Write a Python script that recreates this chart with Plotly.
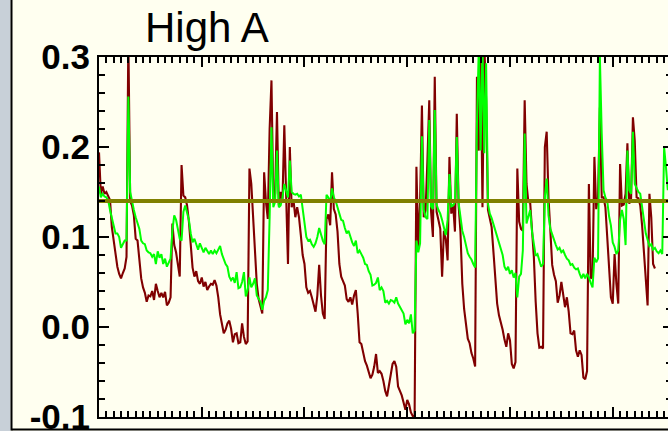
import numpy as np
import plotly.graph_objects as go

# Sampling interval of both series (in axis units, 4 samples per unit)
STEP = 0.25

# Dark-red series
red_vals = [
    0.194, 0.148, 0.156, 0.148, 0.150, 0.146, 0.141, 0.111, 0.094, 0.080,
    0.067, 0.059, 0.054, 0.060, 0.065, 0.078, 0.320, 0.140, 0.135, 0.124,
    0.098, 0.096, 0.074, 0.054, 0.044, 0.038, 0.028, 0.035, 0.034, 0.040,
    0.030, 0.048, 0.040, 0.033, 0.038, 0.033, 0.039, 0.024, 0.027, 0.033,
    0.115, 0.091, 0.083, 0.070, 0.056, 0.180, 0.146, 0.144, 0.135, 0.117,
    0.085, 0.066, 0.056, 0.062, 0.051, 0.048, 0.055, 0.045, 0.050, 0.041,
    0.045, 0.048, 0.047, 0.052, 0.046, 0.033, 0.014, 0.002, -0.007, -0.003,
    0.004, 0.007, -0.002, -0.017, -0.008, -0.007, -0.018, -0.017, 0.004, -0.011,
    -0.019, -0.016, 0.176, 0.159, 0.119, 0.078, 0.048, 0.031, 0.024, 0.015,
    0.172, 0.139, 0.120, 0.220, 0.274, 0.141, 0.148, 0.239, 0.135, 0.150,
    0.141, 0.224, 0.146, 0.070, 0.200, 0.133, 0.141, 0.122, 0.133, 0.122,
    0.102, 0.080, 0.070, 0.044, 0.038, 0.040, 0.033, 0.026, 0.017, 0.035,
    0.069, 0.035, 0.015, 0.009, 0.120, 0.125, 0.113, 0.172, 0.131, 0.125,
    0.106, 0.070, 0.056, 0.051, 0.046, 0.031, 0.028, 0.033, 0.025, 0.035,
    0.041, 0.015, -0.017, -0.019, -0.028, -0.038, -0.043, -0.051, -0.057, -0.053,
    -0.044, -0.030, -0.051, -0.049, -0.052, -0.060, -0.071, -0.077, -0.067, -0.053,
    -0.041, -0.038, -0.044, -0.066, -0.071, -0.076, -0.084, -0.092, -0.081, -0.086,
    -0.095, -0.099, -0.103, 0.178, 0.089, 0.139, 0.246, 0.122, 0.130, 0.185,
    0.252, 0.128, 0.100, 0.278, 0.128, 0.119, 0.109, 0.056, 0.107, 0.098,
    0.074, 0.189, 0.126, 0.136, 0.106, 0.237, 0.135, 0.106, 0.048, 0.020,
    0.000, -0.013, -0.018, -0.029, -0.035, -0.044, 0.278, 0.196, 0.315, 0.133,
    0.315, 0.252, 0.130, 0.122, 0.111, 0.083, 0.052, 0.026, 0.013, 0.006,
    -0.003, -0.014, -0.022, -0.007, -0.015, -0.041, -0.046, -0.039, 0.176, 0.117,
    0.109, 0.107, 0.252, 0.159, 0.139, 0.138, 0.113, 0.078, 0.028, -0.007,
    -0.023, -0.022, -0.024, 0.200, 0.217, 0.143, 0.107, 0.069, 0.058, 0.051,
    0.027, 0.035, 0.050, 0.035, 0.022, 0.033, 0.017, -0.007, -0.008, -0.004,
    -0.026, -0.033, -0.026, -0.031, -0.056, -0.058, -0.049, 0.159, 0.054, 0.056,
    0.189, 0.131, 0.144, 0.244, 0.144, 0.144, 0.133, 0.100, 0.070, 0.033,
    0.026, 0.081, 0.048, 0.026, 0.181, 0.135, 0.136, 0.148, 0.204, 0.137,
    0.143, 0.233, 0.207, 0.144, 0.143, 0.135, 0.113, 0.081, 0.056, 0.024,
    0.148, 0.122, 0.070, 0.065,
]

# Bright-green series
green_vals = [
    0.156, 0.144, 0.148, 0.145, 0.144, 0.141, 0.130, 0.120, 0.112, 0.104,
    0.104, 0.100, 0.088, 0.093, 0.096, 0.096, 0.256, 0.150, 0.139, 0.130,
    0.122, 0.115, 0.109, 0.096, 0.093, 0.092, 0.085, 0.083, 0.082, 0.078,
    0.081, 0.070, 0.084, 0.077, 0.081, 0.070, 0.076, 0.067, 0.071, 0.076,
    0.107, 0.124, 0.119, 0.109, 0.098, 0.096, 0.128, 0.135, 0.127, 0.119,
    0.104, 0.094, 0.098, 0.092, 0.086, 0.093, 0.087, 0.083, 0.088, 0.085,
    0.081, 0.085, 0.081, 0.085, 0.082, 0.086, 0.090, 0.081, 0.075, 0.070,
    0.067, 0.056, 0.052, 0.055, 0.049, 0.061, 0.043, 0.044, 0.050, 0.061,
    0.034, 0.041, 0.055, 0.044, 0.048, 0.054, 0.035, 0.031, 0.028, 0.019,
    0.029, 0.033, 0.041, 0.122, 0.222, 0.133, 0.139, 0.196, 0.133, 0.135,
    0.144, 0.159, 0.152, 0.144, 0.185, 0.150, 0.148, 0.147, 0.148, 0.145,
    0.147, 0.130, 0.119, 0.100, 0.096, 0.097, 0.092, 0.089, 0.093, 0.100,
    0.110, 0.102, 0.096, 0.092, 0.147, 0.144, 0.138, 0.154, 0.144, 0.140,
    0.134, 0.126, 0.119, 0.118, 0.110, 0.104, 0.107, 0.099, 0.094, 0.090,
    0.096, 0.082, 0.085, 0.081, 0.077, 0.070, 0.069, 0.062, 0.058, 0.046,
    0.047, 0.049, 0.055, 0.041, 0.044, 0.040, 0.027, 0.029, 0.026, 0.030,
    0.029, 0.027, 0.033, 0.026, 0.022, 0.018, 0.015, 0.003, 0.008, 0.004,
    0.014, -0.007, -0.004, 0.096, 0.083, 0.093, 0.212, 0.130, 0.122, 0.120,
    0.230, 0.134, 0.131, 0.241, 0.136, 0.130, 0.126, 0.119, 0.109, 0.102,
    0.119, 0.170, 0.134, 0.135, 0.139, 0.211, 0.138, 0.122, 0.107, 0.100,
    0.089, 0.082, 0.078, 0.075, 0.070, 0.066, 0.226, 0.310, 0.196, 0.315,
    0.193, 0.293, 0.137, 0.126, 0.121, 0.114, 0.107, 0.100, 0.092, 0.084,
    0.080, 0.067, 0.063, 0.067, 0.059, 0.063, 0.055, 0.060, 0.033, 0.056,
    0.059, 0.085, 0.215, 0.115, 0.122, 0.130, 0.106, 0.093, 0.079, 0.081,
    0.073, 0.067, 0.070, 0.144, 0.165, 0.124, 0.109, 0.102, 0.096, 0.091,
    0.086, 0.088, 0.083, 0.085, 0.080, 0.076, 0.074, 0.069, 0.070, 0.066,
    0.064, 0.065, 0.059, 0.054, 0.059, 0.054, 0.059, 0.055, 0.049, 0.044,
    0.077, 0.072, 0.076, 0.300, 0.215, 0.152, 0.144, 0.140, 0.123, 0.113,
    0.094, 0.089, 0.081, 0.085, 0.119, 0.130, 0.120, 0.091, 0.196, 0.152,
    0.148, 0.217, 0.159, 0.155, 0.150, 0.148, 0.136, 0.119, 0.104, 0.096,
    0.090, 0.092, 0.086, 0.088, 0.084, 0.082, 0.085, 0.081, 0.200, 0.178, 0.152,
]

# Horizontal reference level
threshold = 0.14

# Axis settings
x_range = [0, 77.53]
y_range = [-0.1, 0.3]
y_tickvals = [-0.1, 0.0, 0.1, 0.2, 0.3]
y_ticktext = ["-0.1", "0.0", "0.1", "0.2", "0.3"]
title_text = "High A"

t_red = np.arange(len(red_vals)) * STEP
t_green = np.arange(len(green_vals)) * STEP

FONT = "Liberation Sans, Arial, Helvetica, sans-serif"
BG = "#FFFFF0"

fig = go.Figure()
fig.add_trace(go.Scatter(x=t_red, y=red_vals, mode="lines",
                         line=dict(color="#800000", width=2.1), showlegend=False))
fig.add_trace(go.Scatter(x=t_green, y=green_vals, mode="lines",
                         line=dict(color="#00FF00", width=2.0), showlegend=False))
fig.add_trace(go.Scatter(x=x_range, y=[threshold, threshold], mode="lines",
                         line=dict(color="#808000", width=3.8), showlegend=False,
                         yaxis="y2"))

fig.update_layout(
    width=668, height=431,
    margin=dict(l=99, r=0, t=57, b=14),
    paper_bgcolor=BG, plot_bgcolor=BG,
    font=dict(family=FONT, color="black"),
    xaxis=dict(
        range=x_range, showgrid=False, zeroline=False,
        showline=True, linecolor="black", linewidth=2, mirror="ticks",
        ticks="inside", tickmode="linear", tick0=0, dtick=14,
        ticklen=10, tickwidth=2, tickcolor="black",
        showticklabels=False,
        minor=dict(ticks="inside", dtick=1, ticklen=6, tickwidth=1.5,
                   tickcolor="black", showgrid=False),
    ),
    yaxis=dict(
        range=y_range, showgrid=False, zeroline=False,
        showline=True, linecolor="black", linewidth=2, mirror=False,
        ticks="inside", tickmode="array", tickvals=y_tickvals, ticktext=y_ticktext,
        ticklen=10, tickwidth=2, tickcolor="black",
        tickfont=dict(family=FONT, size=35, color="black", weight="bold"),
        ticklabelstandoff=0, ticklabeloverflow="allow", automargin=False,
        minor=dict(ticks="inside", dtick=0.02, tick0=0, ticklen=6, tickwidth=1.5,
                   tickcolor="black", showgrid=False),
    ),
    yaxis2=dict(
        range=y_range, overlaying="y", side="right", showgrid=False,
        zeroline=False, showline=False, showticklabels=False,
        ticks="inside", tickmode="array", tickvals=y_tickvals,
        ticklen=5, tickwidth=2, tickcolor="black",
        minor=dict(ticks="inside", dtick=0.02, tick0=0, ticklen=2, tickwidth=1.5,
                   tickcolor="black", showgrid=False),
    ),
    annotations=[dict(
        text=title_text, xref="paper", yref="paper",
        x=(143 - 99) / 569, y=(417 - 27) / 360,
        xanchor="left", yanchor="middle", showarrow=False,
        font=dict(family=FONT, size=42, color="black"),
    )],
    shapes=[
        # grey strip and black frame around the panel
        dict(type="rect", xref="paper", yref="paper",
             x0=-99 / 569, x1=(10.5 - 99) / 569, y0=-0.05, y1=1.2,
             fillcolor="#C8D0D8", line=dict(width=0), layer="above"),
        dict(type="line", xref="paper", yref="paper",
             x0=(11.5 - 99) / 569, x1=(11.5 - 99) / 569,
             y0=(417 - 430.5) / 360, y1=1.2,
             line=dict(color="black", width=2), layer="above"),
        dict(type="line", xref="paper", yref="paper",
             x0=(11.5 - 99) / 569, x1=1.01,
             y0=(417 - 429.5) / 360, y1=(417 - 429.5) / 360,
             line=dict(color="black", width=2), layer="above"),
    ],
)

fig.write_html("out.html")
